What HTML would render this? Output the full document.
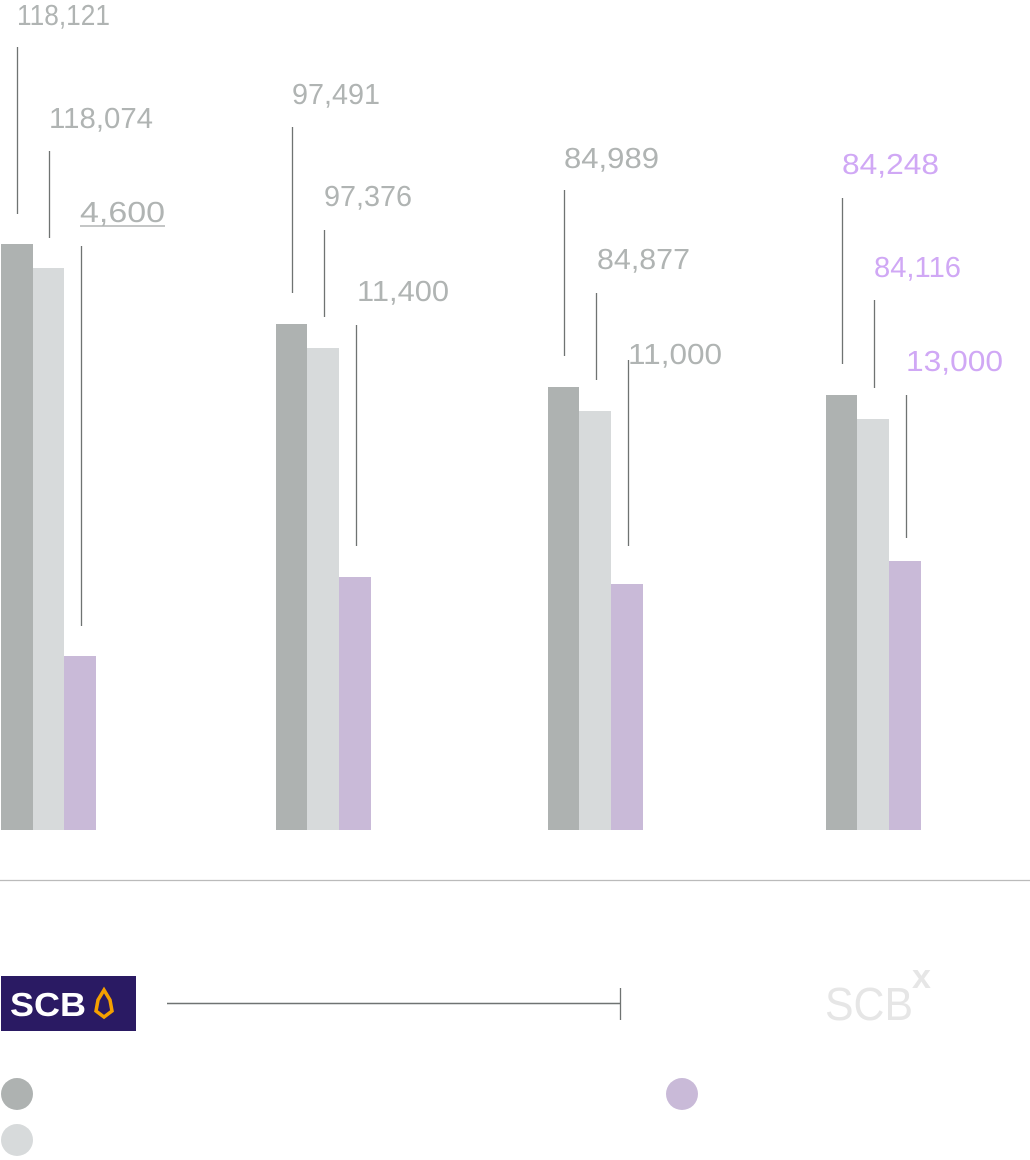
<!DOCTYPE html>
<html><head><meta charset="utf-8"><style>
html,body{margin:0;padding:0;background:#fff;}
svg{display:block}
text{font-family:"Liberation Sans",sans-serif;font-size:29px;fill:#b0b4b3}
.p{fill:#d0a8f5}
</style></head><body>
<svg width="1030" height="1160" viewBox="0 0 1030 1160">
<g>
<rect x="1" y="244" width="32" height="586" fill="#aeb2b1"/>
<rect x="33" y="268" width="31" height="562" fill="#d7dadb"/>
<rect x="64" y="656" width="32" height="174" fill="#c9bad8"/>
<rect x="276" y="324" width="31" height="506" fill="#aeb2b1"/>
<rect x="307" y="348" width="32" height="482" fill="#d7dadb"/>
<rect x="339" y="577" width="32" height="253" fill="#c9bad8"/>
<rect x="548" y="387" width="31" height="443" fill="#aeb2b1"/>
<rect x="579" y="411" width="32" height="419" fill="#d7dadb"/>
<rect x="611" y="584" width="32" height="246" fill="#c9bad8"/>
<rect x="826" y="395" width="31" height="435" fill="#aeb2b1"/>
<rect x="857" y="419" width="32" height="411" fill="#d7dadb"/>
<rect x="889" y="561" width="32" height="269" fill="#c9bad8"/>
</g>
<g stroke="#6f7372" stroke-width="1.3">
<line x1="17.5" y1="47" x2="17.5" y2="214"/>
<line x1="49.5" y1="151" x2="49.5" y2="238"/>
<line x1="81.5" y1="246" x2="81.5" y2="626"/>
<line x1="292.5" y1="127" x2="292.5" y2="293"/>
<line x1="324.5" y1="230" x2="324.5" y2="317"/>
<line x1="356.5" y1="325" x2="356.5" y2="546"/>
<line x1="564.5" y1="190" x2="564.5" y2="356"/>
<line x1="596.5" y1="293" x2="596.5" y2="380"/>
<line x1="628.5" y1="360" x2="628.5" y2="546"/>
<line x1="842.5" y1="198" x2="842.5" y2="364"/>
<line x1="874.5" y1="300" x2="874.5" y2="388"/>
<line x1="906.5" y1="395" x2="906.5" y2="538"/>
</g>
<g lengthAdjust="spacingAndGlyphs">
<text x="17" y="25" textLength="93" lengthAdjust="spacingAndGlyphs">118,121</text>
<text x="49" y="128" textLength="104" lengthAdjust="spacingAndGlyphs">118,074</text>
<text x="80" y="222" textLength="85" lengthAdjust="spacingAndGlyphs">4,600</text>
<text x="292" y="104" textLength="88" lengthAdjust="spacingAndGlyphs">97,491</text>
<text x="324" y="206" textLength="88" lengthAdjust="spacingAndGlyphs">97,376</text>
<text x="357" y="301" textLength="92" lengthAdjust="spacingAndGlyphs">11,400</text>
<text x="564" y="168" textLength="95" lengthAdjust="spacingAndGlyphs">84,989</text>
<text x="597" y="269" textLength="93" lengthAdjust="spacingAndGlyphs">84,877</text>
<text x="628" y="364" textLength="94" lengthAdjust="spacingAndGlyphs">11,000</text>
<text class="p" x="842" y="174" textLength="97" lengthAdjust="spacingAndGlyphs">84,248</text>
<text class="p" x="874" y="277" textLength="87" lengthAdjust="spacingAndGlyphs">84,116</text>
<text class="p" x="906" y="371" textLength="97" lengthAdjust="spacingAndGlyphs">13,000</text>
</g>
<line x1="80" y1="226" x2="165" y2="226" stroke="#b0b4b3" stroke-width="1.5"/>
<line x1="0" y1="880.5" x2="1030" y2="880.5" stroke="#bbbbbb" stroke-width="1.3"/>
<rect x="1" y="976" width="135" height="55" fill="#2a1a63"/>
<text x="10" y="1016" style="font-size:33px;font-weight:bold;fill:#fff" textLength="76" lengthAdjust="spacingAndGlyphs">SCB</text>
<path d="M104 1017 L96 1011 L98 1000 L104 990 L110 1000 L112 1011 Z" fill="none" stroke="#f5a000" stroke-width="3.5"/>
<line x1="167" y1="1003.5" x2="620" y2="1003.5" stroke="#6f7372" stroke-width="1.5"/>
<line x1="620.5" y1="988" x2="620.5" y2="1020" stroke="#6f7372" stroke-width="1.3"/>
<text x="825" y="1020" style="font-size:46px;fill:#e6e6e6" textLength="88" lengthAdjust="spacingAndGlyphs">SCB</text>
<text x="912" y="988" style="font-size:34px;font-weight:bold;fill:#e6e6e6">x</text>
<circle cx="17" cy="1094" r="16" fill="#aeb2b1"/>
<circle cx="17" cy="1140" r="16" fill="#d7dadb"/>
<circle cx="682" cy="1094" r="16" fill="#c9bad8"/>
</svg>
</body></html>
